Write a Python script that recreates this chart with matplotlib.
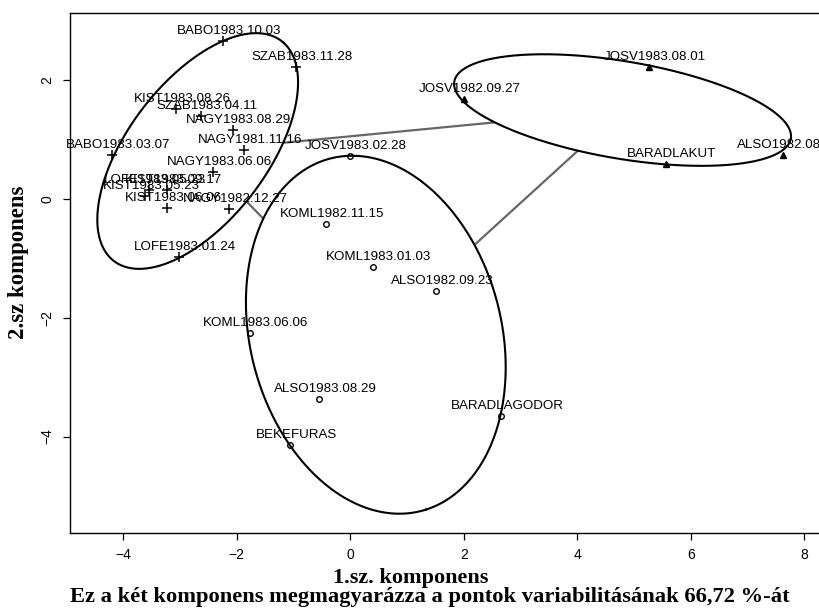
import numpy as np
import matplotlib
matplotlib.use("Agg")
import matplotlib.pyplot as plt

# Cluster with "+" markers
plus_labels = ["BABO1983.10.03", "SZAB1983.11.28", "KIST1983.08.26", "SZAB1983.04.11",
               "NAGY1983.08.29", "NAGY1981.11.16", "BABO1983.03.07", "NAGY1983.06.06",
               "LOFE1983.05.23", "KIST1983.09.17", "KIST1983.05.23", "KIST1983.06.06",
               "NAGY1982.12.27", "LOFE1983.01.24"]
plus_x = [-2.25, -0.95, -3.07, -2.64, -2.07, -1.87, -4.20, -2.42,
          -3.54, -3.23, -3.62, -3.23, -2.14, -3.02]
plus_y = [2.67, 2.23, 1.51, 1.40, 1.16, 0.83, 0.74, 0.455,
          0.16, 0.15, 0.05, -0.15, -0.17, -0.98]

# Cluster with open circles
circ_labels = ["JOSV1983.02.28", "KOML1982.11.15", "KOML1983.01.03", "ALSO1982.09.23",
               "KOML1983.06.06", "ALSO1983.08.29", "BEKEFURAS", "BARADLAGODOR"]
circ_x = [-0.01, -0.43, 0.40, 1.51, -1.77, -0.55, -1.06, 2.66]
circ_y = [0.72, -0.42, -1.15, -1.54, -2.26, -3.37, -4.14, -3.65]

# Cluster with triangles
tri_labels = ["JOSV1982.09.27", "JOSV1983.08.01", "BARADLAKUT", "ALSO1982.08.10"]
tri_x = [2.00, 5.26, 5.56, 7.62]
tri_y = [1.685, 2.22, 0.595, 0.75]

# Spanning ellipses: circles, triangles, plus
ell_cx = [0.45, 4.80, -2.69]
ell_cy = [-2.285, 1.50, 0.81]
ell_a = [3.076, 3.005, 2.371]
ell_b = [2.2075, 0.821, 1.205]
ell_angle = [-73.48, -9.11, 50.6]

x_ticks = [-4, -2, 0, 2, 4, 6, 8]
y_ticks = [-4, -2, 0, 2]
x_title = "1.sz. komponens"
y_title = "2.sz komponens"
sub_title = "Ez a két komponens megmagyarázza a pontok variabilitásának 66,72 %-át"

W, H = 820, 611
fig = plt.figure(figsize=(W / 100, H / 100), dpi=100)
ax = fig.add_axes([69.5 / W, (H - 532.7) / H, 755 / W, 519.4 / H])
ax.set_xlim(-4.95, 8.36)
ax.set_ylim(-5.62, 3.13)


def ellipse_pts(i, n=400):
    t = np.linspace(0, 2 * np.pi, n)
    th = np.deg2rad(ell_angle[i])
    x = ell_cx[i] + ell_a[i] * np.cos(t) * np.cos(th) - ell_b[i] * np.sin(t) * np.sin(th)
    y = ell_cy[i] + ell_a[i] * np.cos(t) * np.sin(th) + ell_b[i] * np.sin(t) * np.cos(th)
    return x, y


def boundary_dist(i, d):
    th = np.deg2rad(ell_angle[i])
    u = d[0] * np.cos(th) + d[1] * np.sin(th)
    v = -d[0] * np.sin(th) + d[1] * np.cos(th)
    return 1.0 / np.sqrt((u / ell_a[i]) ** 2 + (v / ell_b[i]) ** 2)


# Connecting lines along the centre-to-centre direction, between the hulls
for i in range(3):
    for j in range(i + 1, 3):
        ci = np.array([ell_cx[i], ell_cy[i]])
        cj = np.array([ell_cx[j], ell_cy[j]])
        dist = np.linalg.norm(cj - ci)
        d = (cj - ci) / dist
        ti = boundary_dist(i, d)
        tj = boundary_dist(j, -d)
        if ti + tj < dist:
            p0 = ci + ti * d
            p1 = cj - tj * d
            ax.plot([p0[0], p1[0]], [p0[1], p1[1]], color="#666666", lw=1.6,
                    solid_capstyle="butt", zorder=2)

for i in range(3):
    ex, ey = ellipse_pts(i)
    ax.plot(ex, ey, color="black", lw=1.5, zorder=3)

ax.plot(plus_x, plus_y, ls="none", marker="+", ms=7, mew=1.1, color="black", zorder=4)
ax.plot(circ_x, circ_y, ls="none", marker="o", ms=4, mew=1.0, mfc="none",
        color="black", zorder=4)
ax.plot(tri_x, tri_y, ls="none", marker="^", ms=5, mew=1.0, mfc="black",
        color="black", zorder=4)

for labs, xs, ys in [(plus_labels, plus_x, plus_y), (circ_labels, circ_x, circ_y),
                     (tri_labels, tri_x, tri_y)]:
    for lab, x, y in zip(labs, xs, ys):
        t = ax.annotate(lab, (x, y), xytext=(6, 10), textcoords="offset pixels",
                        ha="center", va="center", fontsize=9.6,
                        family=["Liberation Sans", "DejaVu Sans"], color="black",
                        zorder=5, annotation_clip=False)
        t.set_clip_on(True)

ax.set_xticks(x_ticks)
ax.set_yticks(y_ticks)
ax.tick_params(direction="out", length=5, width=0.9, pad=6, labelsize=10)
for lab in ax.get_yticklabels():
    lab.set_rotation(90)
    lab.set_va("center")
for lab in ax.get_xticklabels() + ax.get_yticklabels():
    lab.set_family(["Liberation Sans", "DejaVu Sans"])
ax.spines["right"].set_visible(False)
for s in ["left", "bottom", "top"]:
    ax.spines[s].set_linewidth(1.0)

fig.text(411 / W, 1 - 578 / H, x_title, ha="center", va="center", fontsize=16,
         family="Liberation Serif", weight="bold")
fig.text(430 / W, 1 - 597 / H, sub_title, ha="center", va="center", fontsize=16.2,
         family="Liberation Serif", weight="bold")
fig.text(19 / W, 1 - 262 / H, y_title, ha="center", va="center", fontsize=16.4,
         family="Liberation Serif", weight="bold", rotation=90)

fig.savefig("out.png", dpi=100)
